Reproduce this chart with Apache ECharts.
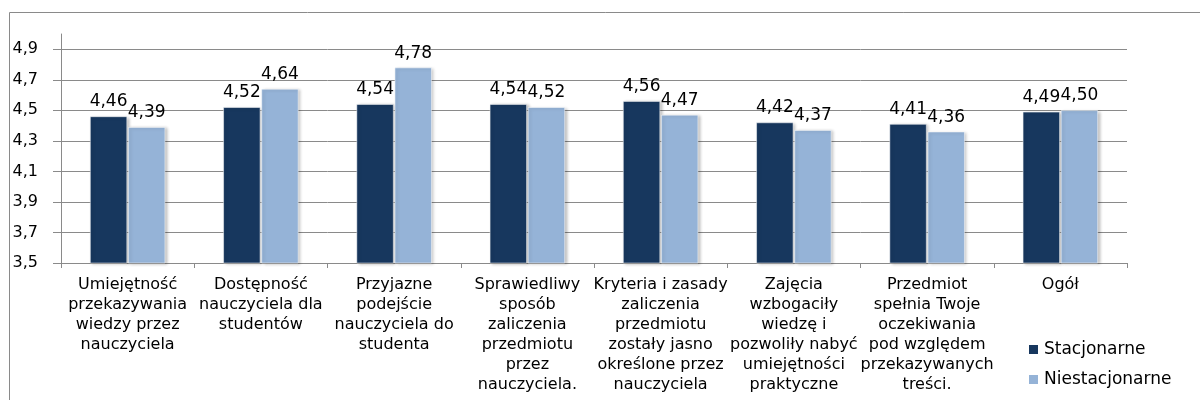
<!DOCTYPE html>
<html>
<head>
<meta charset="utf-8">
<script src="https://cdn.jsdelivr.net/npm/echarts@6/dist/echarts.min.js"></script>
<style>
  html, body { margin: 0; padding: 0; background: #fff; }
  #chart { width: 1200px; height: 400px; }
</style>
</head>
<body>
<div id="chart"></div>
<script>
// dane z wykresu
var categories = [
    'Umiejętność\nprzekazywania\nwiedzy przez\nnauczyciela',
    'Dostępność\nnauczyciela dla\nstudentów',
    'Przyjazne\npodejście\nnauczyciela do\nstudenta',
    'Sprawiedliwy\nsposób\nzaliczenia\nprzedmiotu\nprzez\nnauczyciela.',
    'Kryteria i zasady\nzaliczenia\nprzedmiotu\nzostały jasno\nokreślone przez\nnauczyciela',
    'Zajęcia\nwzbogaciły\nwiedzę i\npozwoliły nabyć\numiejętności\npraktyczne',
    'Przedmiot\nspełnia Twoje\noczekiwania\npod względem\nprzekazywanych\ntreści.',
    'Ogół'
];
var stacjonarne = [4.46, 4.52, 4.54, 4.54, 4.56, 4.42, 4.41, 4.49];
var niestacjonarne = [4.39, 4.64, 4.78, 4.52, 4.47, 4.37, 4.36, 4.50];
// etykiety osi Y (co druga widoczna)
var yTicks = ['3,5', '3,6', '3,7', '3,8', '3,9', '4,0', '4,1', '4,2',
              '4,3', '4,4', '4,5', '4,6', '4,7', '4,8', '4,9', '5,0'];

var FONT = 'DejaVu Sans';
var GRID_COLOR = '#8a8a8a';

var chart = echarts.init(document.getElementById('chart'));

function fmt(p) {
    return p.value.toFixed(2).replace('.', ',');
}

function barSeries(name, data, color) {
    return {
        name: name,
        type: 'bar',
        data: data,
        xAxisIndex: 0,
        yAxisIndex: 0,
        barWidth: 37,
        barGap: '3%',
        itemStyle: {
            color: color,
            borderColor: '#fff',
            borderWidth: 0.5,
            shadowColor: 'rgba(0,0,0,0.25)',
            shadowBlur: 3,
            shadowOffsetX: 2,
            shadowOffsetY: 1
        },
        label: {
            show: true,
            position: 'top',
            distance: 6,
            formatter: fmt,
            fontFamily: FONT,
            fontSize: 17,
            color: '#000'
        }
    };
}

chart.setOption({
    backgroundColor: '#fff',
    animation: false,
    graphic: [{
        type: 'rect',
        shape: { x: 9.5, y: 12.5, width: 1400, height: 600 },
        style: { fill: 'none', stroke: GRID_COLOR, lineWidth: 1 },
        silent: true,
        z: -10
    }],
    grid: { left: 61, right: 73, top: 34, bottom: 137 },
    legend: {
        orient: 'vertical',
        left: 1022,
        top: 336,
        itemWidth: 11,
        itemHeight: 11,
        itemGap: 13,
        icon: 'rect',
        textStyle: { fontFamily: FONT, fontSize: 17, color: '#000' },
        data: ['Stacjonarne', 'Niestacjonarne']
    },
    xAxis: {
        type: 'category',
        data: categories,
        axisLine: { lineStyle: { color: GRID_COLOR } },
        axisTick: { show: true, length: 5, lineStyle: { color: GRID_COLOR } },
        axisLabel: {
            interval: 0,
            margin: 12,
            fontFamily: FONT,
            fontSize: 16,
            lineHeight: 20,
            color: '#000'
        }
    },
    yAxis: [{
        // oś wartości dla słupków
        type: 'value',
        min: 3.5,
        max: 5.0,
        show: false,
        splitLine: { show: false }
    }, {
        // oś tylko do wyświetlania etykiet i linii siatki
        type: 'category',
        data: yTicks,
        boundaryGap: false,
        position: 'left',
        axisLine: { show: true, lineStyle: { color: GRID_COLOR } },
        axisTick: { show: true, interval: 1, length: 8, lineStyle: { color: GRID_COLOR } },
        axisLabel: {
            interval: 1,
            margin: 23,
            fontFamily: FONT,
            fontSize: 16,
            color: '#000'
        },
        splitLine: { show: true, interval: 1, lineStyle: { color: GRID_COLOR } }
    }],
    series: [
        barSeries('Stacjonarne', stacjonarne, '#17375E'),
        barSeries('Niestacjonarne', niestacjonarne, '#95B3D7')
    ]
});
</script>
</body>
</html>
